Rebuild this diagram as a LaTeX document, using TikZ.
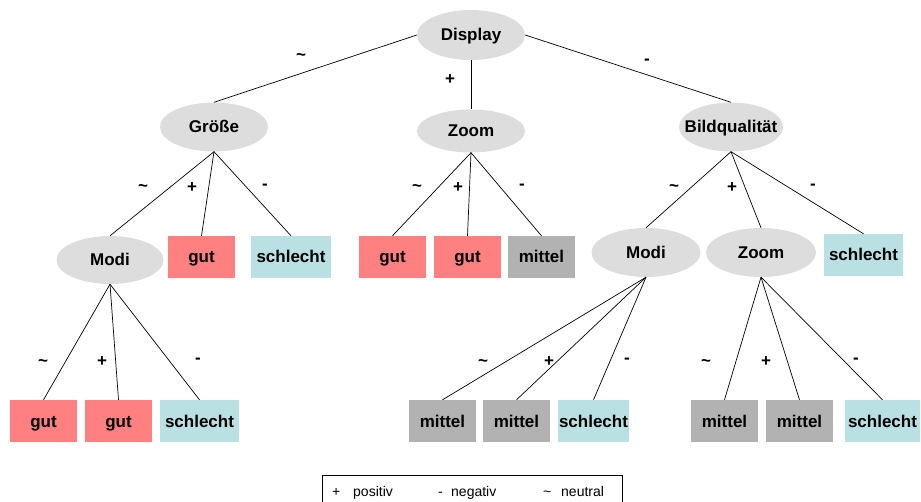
\documentclass[tikz,border=0pt]{standalone}
\usepackage{fontspec}
\setmainfont{Liberation Sans}
\usetikzlibrary{shapes.geometric}
\definecolor{ellgray}{HTML}{DDDDDD}
\definecolor{goodred}{HTML}{FF8080}
\definecolor{badcyan}{HTML}{B9E0E2}
\definecolor{midgray}{HTML}{B2B2B2}
\tikzset{
  crit/.style={ellipse, fill=ellgray, inner sep=0pt, minimum height=49pt},
  leaf/.style={rectangle, inner sep=0pt, minimum height=42pt, minimum width=67pt},
  good/.style={leaf, fill=goodred},
  bad/.style={leaf, fill=badcyan},
  mid/.style={leaf, fill=midgray},
  conn/.style={draw=black, line width=0.7pt},
  elab/.style={inner sep=0pt, font=\fontsize{17}{19}\selectfont\bfseries},
  legtxt/.style={inner sep=0pt, anchor=base west, font=\fontsize{14}{16}\selectfont}
}
\newcommand{\ct}[1]{\makebox[0pt]{\raisebox{-6pt}[0pt][0pt]{\fontsize{17}{19}\selectfont\bfseries #1}}}
\begin{document}
\begin{tikzpicture}[x=1pt,y=-1pt]
\useasboundingbox (0,0) rectangle (921,502);
\clip (0,0) rectangle (921,502);
% criteria ellipses
\node[crit, minimum width=108pt, minimum height=50pt] (display) at (471,35) {\ct{Display}};
\node[crit, minimum width=108pt] (groesse) at (214,127) {\ct{Größe}};
\node[crit, minimum width=108pt, minimum height=43pt] (zoomA) at (471,131) {\ct{Zoom}};
\node[crit, minimum width=104pt] (bild) at (731,127) {\ct{Bildqualität}};
\node[crit, minimum width=107pt, minimum height=48pt] (modiA) at (110,260) {\ct{Modi}};
\node[crit, minimum width=109pt] (modiB) at (646,252.5) {\ct{Modi}};
\node[crit, minimum width=110pt] (zoomB) at (761,252.5) {\ct{Zoom}};
% leaves row 2
\node[good] (g1) at (201.5,257) {\ct{gut}};
\node[bad, minimum width=80pt] (s1) at (291,257) {\ct{schlecht}};
\node[good] (g2) at (392.5,257) {\ct{gut}};
\node[good] (g3) at (467.5,257) {\ct{gut}};
\node[mid] (m1) at (541.5,257) {\ct{mittel}};
\node[bad, minimum width=79pt] (s2) at (863.5,255) {\ct{schlecht}};
% leaves row 3
\node[good] (g4) at (43.5,421) {\ct{gut}};
\node[good] (g5) at (118.5,421) {\ct{gut}};
\node[bad, minimum width=79pt] (s3) at (199.5,421) {\ct{schlecht}};
\node[mid] (m2) at (442.5,421) {\ct{mittel}};
\node[mid] (m3) at (516.5,421) {\ct{mittel}};
\node[bad, minimum width=71pt] (s4) at (593.5,421) {\ct{schlecht}};
\node[mid] (m4) at (724.5,421) {\ct{mittel}};
\node[mid] (m5) at (799.5,421) {\ct{mittel}};
\node[bad, minimum width=75pt] (s5) at (882.5,421) {\ct{schlecht}};
% connectors
\draw[conn] (display.west) -- (groesse.north);
\draw[conn] (display.south) -- (zoomA.north);
\draw[conn] (display.east) -- (bild.north);
\draw[conn] (groesse.south) -- (modiA.north);
\draw[conn] (groesse.south) -- (g1.north);
\draw[conn] (groesse.south) -- (s1.north);
\draw[conn] (zoomA.south) -- (g2.north);
\draw[conn] (zoomA.south) -- (g3.north);
\draw[conn] (zoomA.south) -- (m1.north);
\draw[conn] (bild.south) -- (modiB.north);
\draw[conn] (bild.south) -- (zoomB.north);
\draw[conn] (bild.south) -- (s2.north);
\draw[conn] (modiA.south) -- (g4.north);
\draw[conn] (modiA.south) -- (g5.north);
\draw[conn] (modiA.south) -- (s3.north);
\draw[conn] (modiB.south) -- (m2.north);
\draw[conn] (modiB.south) -- (m3.north);
\draw[conn] (modiB.south) -- (s4.north);
\draw[conn] (zoomB.south) -- (m4.north);
\draw[conn] (zoomB.south) -- (m5.north);
\draw[conn] (zoomB.south) -- (s5.north);
% edge labels
\node[elab] (l1) at (301,57) {\textasciitilde};
\node[elab] (l2) at (450,80) {+};
\node[elab] (l3) at (647,62) {-};
\node[elab] (l4) at (143,188) {\textasciitilde};
\node[elab] (l5) at (192,188) {+};
\node[elab] (l6) at (265,187) {-};
\node[elab] (l7) at (417,188) {\textasciitilde};
\node[elab] (l8) at (458,188) {+};
\node[elab] (l9) at (522,187) {-};
\node[elab] (l10) at (674,188) {\textasciitilde};
\node[elab] (l11) at (732,188) {+};
\node[elab] (l12) at (813,187) {-};
\node[elab] (l13) at (43,363) {\textasciitilde};
\node[elab] (l14) at (102,362) {+};
\node[elab] (l15) at (198,361) {-};
\node[elab] (l16) at (483,363) {\textasciitilde};
\node[elab] (l17) at (549,362) {+};
\node[elab] (l18) at (627,361) {-};
\node[elab] (l19) at (706,363) {\textasciitilde};
\node[elab] (l20) at (766,362) {+};
\node[elab] (l21) at (856,361) {-};
% legend
\node[draw=black, line width=0.8pt, rectangle, inner sep=0pt, minimum width=300pt, minimum height=60pt, anchor=north west] (legend) at (322,475) {};
\node[legtxt] (lp) at (332,496) {+};
\node[legtxt] (lpt) at (353,496) {positiv};
\node[legtxt] (ln) at (438,496) {-};
\node[legtxt] (lnt) at (451,496) {negativ};
\node[legtxt] (lt) at (543,496) {\textasciitilde};
\node[legtxt] (ltt) at (561,496) {neutral};
\end{tikzpicture}
\end{document}
